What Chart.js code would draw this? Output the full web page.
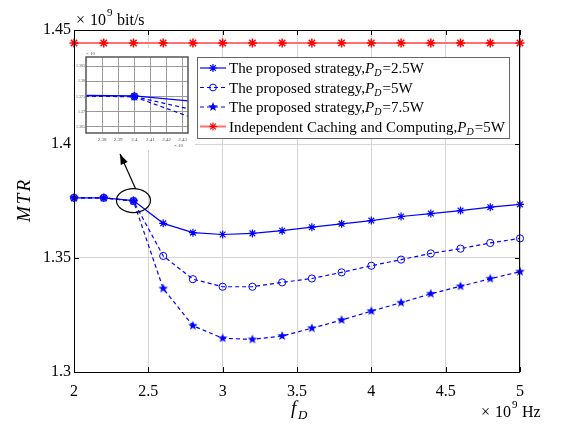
<!DOCTYPE html>
<html>
<head>
<meta charset="utf-8">
<script src="https://cdn.jsdelivr.net/npm/chart.js@4"></script>
<style>
  html, body { margin: 0; padding: 0; background: #fff; }
  #wrap { position: relative; width: 562px; height: 432px; }
  #main { position: absolute; left: 0; top: 0; }
  #inset { position: absolute; left: 75px; top: 48px; }
</style>
</head>
<body>
<div id="wrap">
  <canvas id="main" width="562" height="432"></canvas>
  <canvas id="inset" width="120" height="102"></canvas>
</div>
<script>
// f_D in units of 1e9 Hz
const fD = [2, 2.2, 2.4, 2.6, 2.8, 3, 3.2, 3.4, 3.6, 3.8, 4, 4.2, 4.4, 4.6, 4.8, 5];
// MTR in units of 1e9 bit/s
const mtr25 = [1.3764, 1.3764, 1.3752, 1.3652, 1.3611, 1.3603, 1.3608, 1.3620, 1.3635, 1.3650, 1.3664, 1.3682, 1.3695, 1.3708, 1.3723, 1.3735];
const mtr5 = [1.3764, 1.3764, 1.3750, 1.3509, 1.3407, 1.3374, 1.3374, 1.3393, 1.3410, 1.3437, 1.3466, 1.3493, 1.3520, 1.3541, 1.3566, 1.3586];
const mtr75 = [1.3764, 1.3764, 1.3749, 1.3366, 1.3203, 1.3148, 1.3143, 1.3158, 1.3192, 1.3228, 1.3267, 1.3304, 1.3343, 1.3376, 1.3409, 1.3440];
const mtrIndep = [1.4443, 1.4443, 1.4443, 1.4443, 1.4443, 1.4443, 1.4443, 1.4443, 1.4443, 1.4443, 1.4443, 1.4443, 1.4443, 1.4443, 1.4443, 1.4443];

const xTicks = [2, 2.5, 3, 3.5, 4, 4.5, 5];
const yTicks = [1.3, 1.35, 1.4, 1.45];
const insetXTicks = [2.38, 2.39, 2.4, 2.41, 2.42, 2.43];
const insetYTicks = [1.365, 1.37, 1.375, 1.38, 1.385];

const legendPower = ['2.5W', '5W', '7.5W', '5W'];

const BLUE = '#0000ff';
const RED = '#ff0000';
const SERIF = '"Liberation Serif", "DejaVu Serif", serif';

function pentagram(color, r) {
  const s = Math.ceil(r * 2 + 2);
  const c = document.createElement('canvas');
  c.width = s; c.height = s;
  const g = c.getContext('2d');
  g.fillStyle = color;
  g.beginPath();
  for (let i = 0; i < 10; i++) {
    const a = -Math.PI / 2 + i * Math.PI / 5;
    const rr = i % 2 ? r * 0.42 : r;
    const px = s / 2 + rr * Math.cos(a), py = s / 2 + rr * Math.sin(a);
    i ? g.lineTo(px, py) : g.moveTo(px, py);
  }
  g.closePath();
  g.fill();
  return c;
}
const starPt = pentagram(BLUE, 5);

const pts = arr => fD.map((x, i) => ({ x, y: arr[i] }));

function makeDatasets(clip) {
  return [
    { data: pts(mtrIndep), borderColor: '#ff6f6f', borderWidth: 2, pointStyle: 'star', pointRadius: 4.5,
      pointBorderColor: RED, pointBorderWidth: 1.5, pointBackgroundColor: RED, clip },
    { data: pts(mtr25), borderColor: BLUE, borderWidth: 1.2, pointStyle: 'star', pointRadius: 4,
      pointBorderColor: BLUE, pointBorderWidth: 1.2, clip },
    { data: pts(mtr5), borderColor: BLUE, borderWidth: 1.2, borderDash: [4, 3], pointStyle: 'circle', pointRadius: 3.6,
      pointBorderColor: BLUE, pointBorderWidth: 1, pointBackgroundColor: 'rgba(0,0,0,0)', clip },
    { data: pts(mtr75), borderColor: BLUE, borderWidth: 1.2, borderDash: [4, 3], pointStyle: starPt, pointRadius: 5, clip },
  ];
}

function drawTimes(ctx, x, y) {
  // "× 10^9" starting at x with baseline y, returns end x
  ctx.font = '16px ' + SERIF;
  ctx.fillText('×', x, y);
  ctx.fillText('10', x + 14, y);
  ctx.font = '11px ' + SERIF;
  ctx.fillText('9', x + 31, y - 9);
  return x + 38;
}

function marker(ctx, kind, x, y) {
  ctx.save();
  if (kind === 'ast') {
    ctx.lineWidth = 1.2;
    const r = 4;
    ctx.beginPath();
    for (let k = 0; k < 4; k++) {
      const a = k * Math.PI / 4;
      ctx.moveTo(x - r * Math.cos(a), y - r * Math.sin(a));
      ctx.lineTo(x + r * Math.cos(a), y + r * Math.sin(a));
    }
    ctx.stroke();
  } else if (kind === 'circ') {
    ctx.lineWidth = 1;
    ctx.beginPath();
    ctx.arc(x, y, 3.4, 0, Math.PI * 2);
    ctx.stroke();
  } else {
    ctx.drawImage(starPt, x - starPt.width / 2, y - starPt.height / 2);
  }
  ctx.restore();
}

const decorPlugin = {
  id: 'decor',
  afterDraw(chart) {
    const { ctx, chartArea: a, scales: { x, y } } = chart;
    ctx.save();
    // frame and inward ticks
    ctx.strokeStyle = '#000';
    ctx.lineWidth = 1;
    ctx.strokeRect(a.left + 0.5, a.top + 0.5, a.right - a.left - 1, a.bottom - a.top);
    ctx.beginPath();
    xTicks.forEach(v => {
      const px = Math.round(x.getPixelForValue(v)) + 0.5;
      ctx.moveTo(px, a.bottom); ctx.lineTo(px, a.bottom - 5);
      ctx.moveTo(px, a.top); ctx.lineTo(px, a.top + 5);
    });
    yTicks.forEach(v => {
      const py = Math.round(y.getPixelForValue(v)) + 0.5;
      ctx.moveTo(a.left, py); ctx.lineTo(a.left + 5, py);
      ctx.moveTo(a.right, py); ctx.lineTo(a.right - 5, py);
    });
    ctx.stroke();

    // zoom ellipse + arrow
    const cx = x.getPixelForValue(2.4), cy = y.getPixelForValue(1.3752);
    ctx.lineWidth = 1.2;
    ctx.beginPath();
    ctx.ellipse(cx, cy, 17, 12, 0, 0, Math.PI * 2);
    ctx.stroke();
    const sx = cx + 2, sy = cy - 12, ex = 120, ey = 154;
    ctx.beginPath(); ctx.moveTo(sx, sy); ctx.lineTo(ex, ey); ctx.stroke();
    const ang = Math.atan2(ey - sy, ex - sx);
    ctx.fillStyle = '#000';
    ctx.beginPath();
    ctx.moveTo(ex, ey);
    ctx.lineTo(ex - 11 * Math.cos(ang - 0.35), ey - 11 * Math.sin(ang - 0.35));
    ctx.lineTo(ex - 11 * Math.cos(ang + 0.35), ey - 11 * Math.sin(ang + 0.35));
    ctx.closePath();
    ctx.fill();

    // unit labels
    ctx.fillStyle = '#000';
    ctx.textAlign = 'left';
    ctx.textBaseline = 'alphabetic';
    let ux = drawTimes(ctx, 76, 25);
    ctx.font = '16px ' + SERIF;
    ctx.fillText('bit/s', ux + 3, 25);
    ux = drawTimes(ctx, 481, 417);
    ctx.font = '16px ' + SERIF;
    ctx.fillText('Hz', ux + 3, 417);

    // axis titles
    ctx.font = 'italic 19px ' + SERIF;
    ctx.fillText('f', 291, 414);
    ctx.font = 'italic 13px ' + SERIF;
    ctx.fillText('D', 298, 419);
    ctx.save();
    ctx.translate(30, 200);
    ctx.rotate(-Math.PI / 2);
    ctx.textAlign = 'center';
    ctx.font = 'italic 19px ' + SERIF;
    ctx.letterSpacing = '2px';
    ctx.fillText('MTR', 0, 0);
    ctx.restore();

    // legend
    const lx = 197, ly = 57, lw = 312, lh = 81;
    ctx.fillStyle = '#fff';
    ctx.fillRect(lx, ly, lw, lh);
    ctx.strokeStyle = '#666';
    ctx.lineWidth = 1;
    ctx.strokeRect(lx + 0.5, ly + 0.5, lw, lh);
    const rows = [
      { text: 'The proposed strategy,', color: BLUE, dash: [], mk: 'ast' },
      { text: 'The proposed strategy,', color: BLUE, dash: [4, 3], mk: 'circ' },
      { text: 'The proposed strategy,', color: BLUE, dash: [4, 3], mk: 'star' },
      { text: 'Independent Caching and Computing,', color: '#ff6f6f', dash: [], mk: 'ast', mc: RED },
    ];
    rows.forEach((r, i) => {
      const ry = ly + 11 + i * 19.5;
      ctx.strokeStyle = r.color;
      ctx.lineWidth = r.color === BLUE ? 1.2 : 2;
      ctx.setLineDash(r.dash);
      ctx.beginPath(); ctx.moveTo(lx + 3, ry); ctx.lineTo(lx + 29, ry); ctx.stroke();
      ctx.setLineDash([]);
      ctx.strokeStyle = r.mc || r.color;
      marker(ctx, r.mk, lx + 16, ry);
      ctx.fillStyle = '#000';
      ctx.font = '15px ' + SERIF;
      let tx = lx + 32;
      const by = ry + 5;
      ctx.fillText(r.text, tx, by);
      tx += ctx.measureText(r.text).width;
      ctx.font = 'italic 15px ' + SERIF;
      ctx.fillText('P', tx, by);
      tx += ctx.measureText('P').width;
      ctx.font = 'italic 10px ' + SERIF;
      ctx.fillText('D', tx, by + 3);
      tx += ctx.measureText('D').width + 1;
      ctx.font = '15px ' + SERIF;
      ctx.fillText('=' + legendPower[i], tx, by);
    });
    ctx.restore();
  }
};

new Chart(document.getElementById('main'), {
  type: 'line',
  data: { datasets: makeDatasets(false) },
  options: {
    responsive: false,
    animation: false,
    layout: { padding: { top: 30, right: 42, left: 0, bottom: 0 } },
    plugins: { legend: { display: false }, tooltip: { enabled: false } },
    scales: {
      x: {
        type: 'linear', min: 2, max: 5,
        afterBuildTicks: s => { s.ticks = xTicks.map(v => ({ value: v })); },
        afterFit: s => { s.height = 60; },
        grid: { color: '#d4d4d4', drawTicks: false },
        border: { display: false },
        ticks: { padding: 10, color: '#000', font: { family: SERIF, size: 16 }, maxRotation: 0, callback: v => String(+v.toFixed(2)) }
      },
      y: {
        type: 'linear', min: 1.3, max: 1.45,
        afterBuildTicks: s => { s.ticks = yTicks.map(v => ({ value: v })); },
        afterFit: s => { s.width = 74; },
        grid: { color: '#d4d4d4', drawTicks: false },
        border: { display: false },
        ticks: { padding: 3, color: '#000', font: { family: SERIF, size: 16 }, callback: v => String(+v.toFixed(2)) }
      }
    }
  },
  plugins: [decorPlugin]
});

const insetPlugin = {
  id: 'insetDecor',
  beforeDraw(chart) {
    const { ctx, width, height } = chart;
    ctx.save();
    ctx.fillStyle = '#fff';
    ctx.fillRect(0, 0, width, height);
    ctx.restore();
  },
  afterDraw(chart) {
    const { ctx, chartArea: a } = chart;
    ctx.save();
    ctx.strokeStyle = '#555';
    ctx.lineWidth = 1.5;
    ctx.strokeRect(a.left, a.top, a.right - a.left, a.bottom - a.top);
    ctx.fillStyle = '#555';
    ctx.font = '5px ' + SERIF;
    ctx.fillText('× 10', a.left, a.top - 2);
    ctx.fillText('× 10', a.right - 14, a.bottom + 14);
    ctx.restore();
  }
};

new Chart(document.getElementById('inset'), {
  type: 'line',
  data: { datasets: makeDatasets(true) },
  options: {
    responsive: false,
    animation: false,
    layout: { padding: { top: 9, right: 7, left: 0, bottom: 0 } },
    plugins: { legend: { display: false }, tooltip: { enabled: false } },
    scales: {
      x: {
        type: 'linear', min: 2.37, max: 2.4333,
        afterBuildTicks: s => { s.ticks = insetXTicks.map(v => ({ value: v })); },
        afterFit: s => { s.height = 102 - 85; },
        grid: { color: '#9a9a9a', drawTicks: false },
        border: { display: false },
        ticks: { padding: 4, color: '#555', font: { family: SERIF, size: 5 }, maxRotation: 0, callback: v => String(+v.toFixed(2)) }
      },
      y: {
        type: 'linear', min: 1.363, max: 1.388,
        afterBuildTicks: s => { s.ticks = insetYTicks.map(v => ({ value: v })); },
        afterFit: s => { s.width = 11; },
        grid: { color: '#9a9a9a', drawTicks: false },
        border: { display: false },
        ticks: { padding: 1, color: '#555', font: { family: SERIF, size: 4 }, callback: v => String(+v.toFixed(3)) }
      }
    }
  },
  plugins: [insetPlugin]
});
</script>
</body>
</html>
